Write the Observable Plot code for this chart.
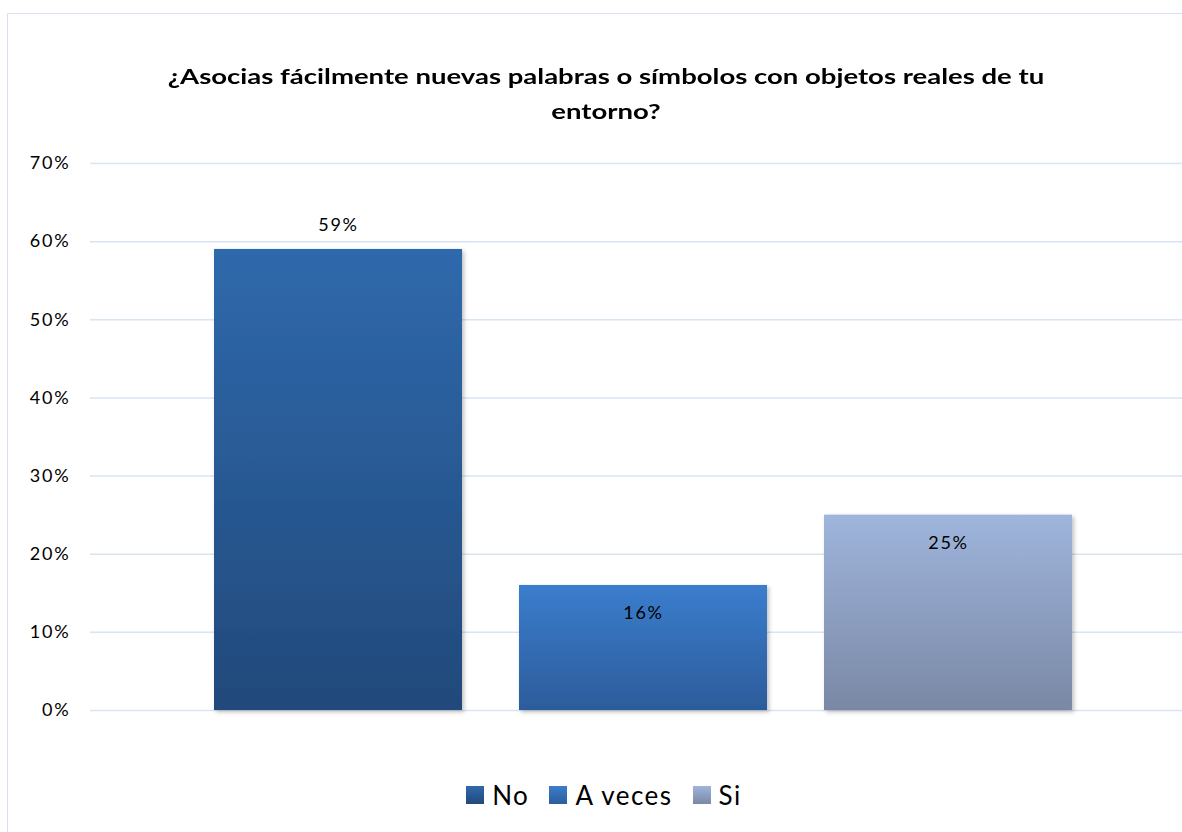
<!DOCTYPE html>
<html>
<head>
<meta charset="utf-8">
<script src="https://cdn.jsdelivr.net/npm/d3@7"></script>
<script src="https://cdn.jsdelivr.net/npm/@observablehq/plot@0.6"></script>
<style>
  html, body { margin: 0; padding: 0; background: #fff; overflow: hidden; }
  body { width: 1182px; height: 832px; position: relative; font-family: Lato, "Open Sans", sans-serif; }
  #frame { position: absolute; left: 7px; top: 13px; width: 1200px; height: 840px; border: 1.5px solid #D6E2F1; box-sizing: border-box; }
  #title { position: absolute; left: 7px; width: 1198px; top: 58px; text-align: center; font-weight: 700; font-size: 21px; line-height: 35px; color: #000; transform: scaleX(1.31); transform-origin: 599px 0; }
  #chart { position: absolute; left: 0; top: 140px; }
  #chart text { letter-spacing: 1.8px; }
  #legend { position: absolute; left: 5px; width: 1198px; top: 779px; display: flex; justify-content: center; align-items: center; font-size: 26px; letter-spacing: 1.5px; color: #000; }
  .item { display: flex; align-items: center; margin: 0 10px; }
  .sw { width: 18px; height: 18px; margin-right: 8px; }
  g[aria-label="bar"] rect { filter: url(#shadow); }
</style>
</head>
<body>
<div id="frame"></div>
<div id="title">¿Asocias fácilmente nuevas palabras o símbolos con objetos reales de tu<br>entorno?</div>
<div id="chart"></div>
<div id="legend"></div>
<script>
const categories = ["No", "A veces", "Si"];
const values = [0.59, 0.16, 0.25];
const yTicks = [0, 0.1, 0.2, 0.3, 0.4, 0.5, 0.6, 0.7];

const gradients = {
  "No": ["#2F69AC", "#22497B"],
  "A veces": ["#3B7DCD", "#2C5C9B"],
  "Si": ["#9FB5DC", "#7A88A5"]
};
const gradId = c => "grad-" + categories.indexOf(c);

const data = categories.map((c, i) => ({cat: c, value: values[i]}));
const fmt = d3.format(".0%");

const defsMark = () => {
  const defs = d3.create("svg:defs");
  categories.forEach(c => {
    const g = defs.append("linearGradient").attr("id", gradId(c)).attr("x1", 0).attr("y1", 0).attr("x2", 0).attr("y2", 1);
    g.append("stop").attr("offset", "0%").attr("stop-color", gradients[c][0]);
    g.append("stop").attr("offset", "100%").attr("stop-color", gradients[c][1]);
  });
  const f = defs.append("filter").attr("id", "shadow").attr("x", "-10%").attr("y", "-10%").attr("width", "130%").attr("height", "130%");
  f.append("feDropShadow").attr("dx", 2).attr("dy", 2).attr("stdDeviation", 2).attr("flood-color", "#000").attr("flood-opacity", 0.25);
  return defs.node();
};

const chart = Plot.plot({
  width: 1182,
  height: 590,
  marginLeft: 90,
  marginRight: 0,
  marginTop: 23,
  marginBottom: 20,
  style: {fontFamily: "Lato, 'Open Sans', sans-serif", fontSize: "18px", color: "#000", background: "transparent", overflow: "visible"},
  x: {domain: categories, paddingInner: 0.187, paddingOuter: 0.38, align: 0.53, axis: null},
  y: {domain: [0, 0.7], ticks: yTicks, tickFormat: fmt, tickSize: 0, tickPadding: 20, label: null},
  color: {type: "identity"},
  marks: [
    defsMark,
    Plot.ruleY(yTicks, {stroke: "#D9E4F2", strokeWidth: 1.5}),
    Plot.barY(data, {x: "cat", y: "value", fill: d => "url(#" + gradId(d.cat) + ")"}),
    Plot.text(data.filter(d => d.cat === "No"), {x: "cat", y: "value", text: d => fmt(d.value), dy: -24, fill: "#000", fontSize: 18}),
    Plot.text(data.filter(d => d.cat !== "No"), {x: "cat", y: "value", text: d => fmt(d.value), dy: 28, fill: "#000", fontSize: 18})
  ]
});
document.getElementById("chart").appendChild(chart);

const legend = d3.select("#legend");
categories.forEach(c => {
  const it = legend.append("div").attr("class", "item");
  it.append("div").attr("class", "sw").style("background", `linear-gradient(${gradients[c][0]}, ${gradients[c][1]})`);
  it.append("span").text(c);
});
</script>
</body>
</html>
